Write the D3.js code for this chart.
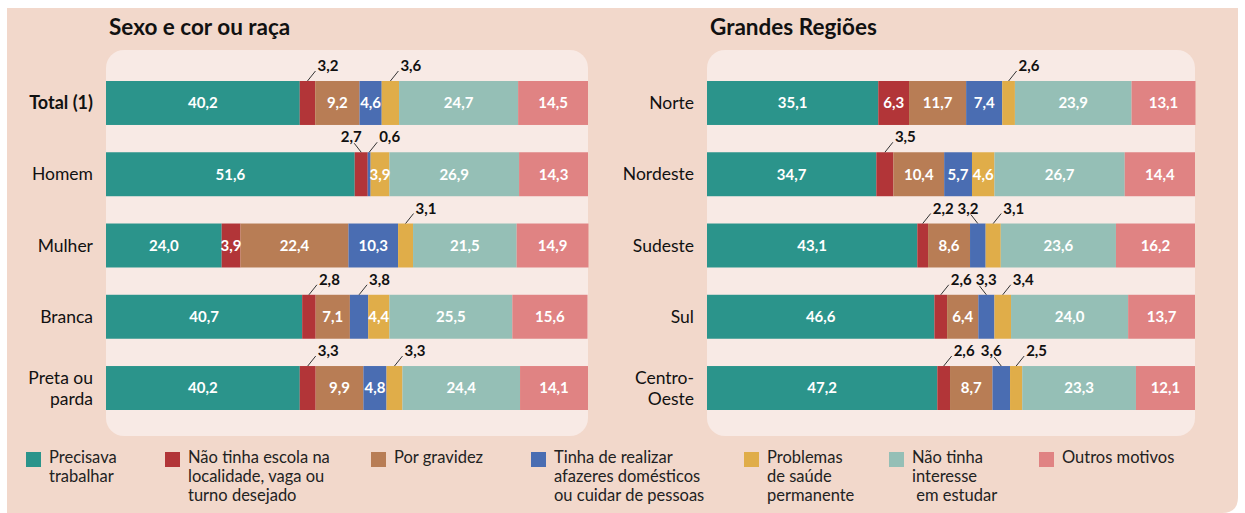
<!DOCTYPE html>
<html>
<head>
<meta charset="utf-8">
<script src="https://cdn.jsdelivr.net/npm/d3@7"></script>
<style>
  body { margin: 0; background: #fff; }
  svg text { font-family: Lato, "Noto Sans", sans-serif; }
</style>
</head>
<body>
<div id="chart"></div>
<script>
// categories (motivos) in stacking order
const motivos = ["Precisava trabalhar", "Não tinha escola na localidade, vaga ou turno desejado",
    "Por gravidez", "Tinha de realizar afazeres domésticos ou cuidar de pessoas",
    "Problemas de saúde permanente", "Não tinha interesse em estudar", "Outros motivos"]
const legendLines = [["Precisava", "trabalhar"], ["Não tinha escola na", "localidade, vaga ou", "turno desejado"],
    ["Por gravidez"], ["Tinha de realizar", "afazeres domésticos", "ou cuidar de pessoas"],
    ["Problemas", "de saúde", "permanente"], ["Não tinha", "interesse", " em estudar"], ["Outros motivos"]]
const colors = ["#2b948b", "#b23538", "#b87d55", "#4a6db2", "#e0ad49", "#95bfb6", "#e08383"]

// Sexo e cor ou raça
const sexoTitle = "Sexo e cor ou raça"
const sexoRows = [["Total (1)"], ["Homem"], ["Mulher"], ["Branca"], ["Preta ou", "parda"]]
const sexoValues = [
    [40.2, 3.2, 9.2, 4.6, 3.6, 24.7, 14.5],
    [51.6, 2.7, 0.0, 0.6, 3.9, 26.9, 14.3],
    [24.0, 3.9, 22.4, 10.3, 3.1, 21.5, 14.9],
    [40.7, 2.8, 7.1, 3.8, 4.4, 25.5, 15.6],
    [40.2, 3.3, 9.9, 4.8, 3.3, 24.4, 14.1]
]

// Grandes Regiões
const regiaoTitle = "Grandes Regiões"
const regiaoRows = [["Norte"], ["Nordeste"], ["Sudeste"], ["Sul"], ["Centro-", "Oeste"]]
const regiaoValues = [
    [35.1, 6.3, 11.7, 7.4, 2.6, 23.9, 13.1],
    [34.7, 3.5, 10.4, 5.7, 4.6, 26.7, 14.4],
    [43.1, 2.2, 8.6, 3.2, 3.1, 23.6, 16.2],
    [46.6, 2.6, 6.4, 3.3, 3.4, 24.0, 13.7],
    [47.2, 2.6, 8.7, 3.6, 2.5, 23.3, 12.1]
]

const width = 1245, height = 513
const insideMin = 3.85
const fmt = v => v.toFixed(1).replace(".", ",")

const svg = d3.select("#chart").append("svg")
    .attr("width", width)
    .attr("height", height)

// peach background, only bottom-right corner rounded
const bx0 = 7, by0 = 8, bx1 = 1238, by1 = 513, r = 16
svg.append("path")
    .attr("d", `M${bx0},${by0}H${bx1}V${by1 - r}Q${bx1},${by1} ${bx1 - r},${by1}H${bx0}Z`)
    .attr("fill", "#f2d8cb")

function drawPanel(title, rowLabels, values, x0, x1, boldFirst) {
    let g = svg.append("g")

    g.append("rect")
        .attr("x", x0).attr("y", 50)
        .attr("width", x1 - x0).attr("height", 386)
        .attr("rx", 18)
        .attr("fill", "#f8eae5")

    g.append("text")
        .attr("x", x0 + 3).attr("y", 35)
        .attr("font-size", 22.5).attr("font-weight", 700)
        .attr("fill", "#111")
        .text(title)

    let idx = d3.range(rowLabels.length)
    let y = d3.scaleBand().domain(idx).range([81, 410]).paddingInner(0.383).paddingOuter(0)
    let x = d3.scaleLinear().domain([0, 100]).range([x0, x1])

    let rows = values.map((vals, i) => {
        let o = {row: i}
        motivos.forEach((m, k) => o[m] = vals[k])
        return o
    })
    let series = d3.stack().keys(motivos)(rows)

    // row labels
    idx.forEach(i => {
        let lines = rowLabels[i]
        let cy = y(i) + y.bandwidth() / 2
        let t = g.append("text")
            .attr("text-anchor", "end")
            .attr("font-size", i === 0 && boldFirst ? 18 : 17.5)
            .attr("font-weight", i === 0 && boldFirst ? 700 : 400)
            .attr("fill", "#111")
        lines.forEach((l, j) => {
            t.append("tspan")
                .attr("x", x0 - 13)
                .attr("y", cy + 6 + (j - (lines.length - 1) / 2) * 21)
                .text(l)
        })
    })

    // segments
    series.forEach((s, k) => {
        g.append("g").attr("fill", colors[k])
            .selectAll("rect")
            .data(s)
            .join("rect")
            .attr("x", d => x(d[0]))
            .attr("y", d => y(d.data.row))
            .attr("width", d => x(d[1]) - x(d[0]))
            .attr("height", y.bandwidth())
    })

    // labels
    idx.forEach(i => {
        let vals = values[i]
        let lastEnd = -Infinity
        vals.forEach((v, k) => {
            if (v <= 0) return
            let d = series[k][i]
            let cx = (x(d[0]) + x(d[1])) / 2
            let top = y(i)
            if (v >= insideMin) {
                g.append("text")
                    .attr("x", cx).attr("y", top + y.bandwidth() / 2)
                    .attr("dy", "0.36em")
                    .attr("text-anchor", "middle")
                    .attr("font-size", 15).attr("font-weight", 700)
                    .attr("fill", "#fff")
                    .text(fmt(v))
                return
            }
            // next non-zero segment also outside -> lean left
            let j = k + 1
            while (j < vals.length && vals[j] <= 0) j++
            let leanLeft = j < vals.length && vals[j] < insideMin
            let t = g.append("text")
                .attr("y", top - 10)
                .attr("font-size", 15).attr("font-weight", 700)
                .attr("fill", "#111")
                .text(fmt(v))
            let w = t.node().getComputedTextLength()
            if (leanLeft) {
                let start = Math.max(cx - 10 - w / 2, lastEnd + 4)
                t.attr("x", start)
                lastEnd = start + w
                g.append("line")
                    .attr("x1", cx).attr("y1", top)
                    .attr("x2", cx - 7).attr("y2", top - 9)
                    .attr("stroke", "#333").attr("stroke-width", 1)
            } else {
                let start = Math.max(cx + 10, lastEnd + 4)
                t.attr("x", start)
                lastEnd = start + w
                g.append("line")
                    .attr("x1", cx).attr("y1", top)
                    .attr("x2", cx + 8).attr("y2", top - 10)
                    .attr("stroke", "#333").attr("stroke-width", 1)
            }
        })
    })
}

drawPanel(sexoTitle, sexoRows, sexoValues, 106, 588, true)
drawPanel(regiaoTitle, regiaoRows, regiaoValues, 707, 1195, false)

// legend
const legendX = [26, 165, 371, 531, 744, 889, 1039]
let legend = svg.append("g")
motivos.forEach((m, k) => {
    let lg = legend.append("g").attr("transform", `translate(${legendX[k]},0)`)
    lg.append("rect")
        .attr("x", 0).attr("y", 452)
        .attr("width", 15).attr("height", 15)
        .attr("fill", colors[k])
    let t = lg.append("text")
        .attr("font-size", 16.5)
        .attr("fill", "#222")
        .attr("xml:space", "preserve")
    legendLines[k].forEach((l, j) => {
        t.append("tspan")
            .attr("x", 23)
            .attr("y", 463 + j * 19)
            .text(l)
    })
})
</script>
</body>
</html>
